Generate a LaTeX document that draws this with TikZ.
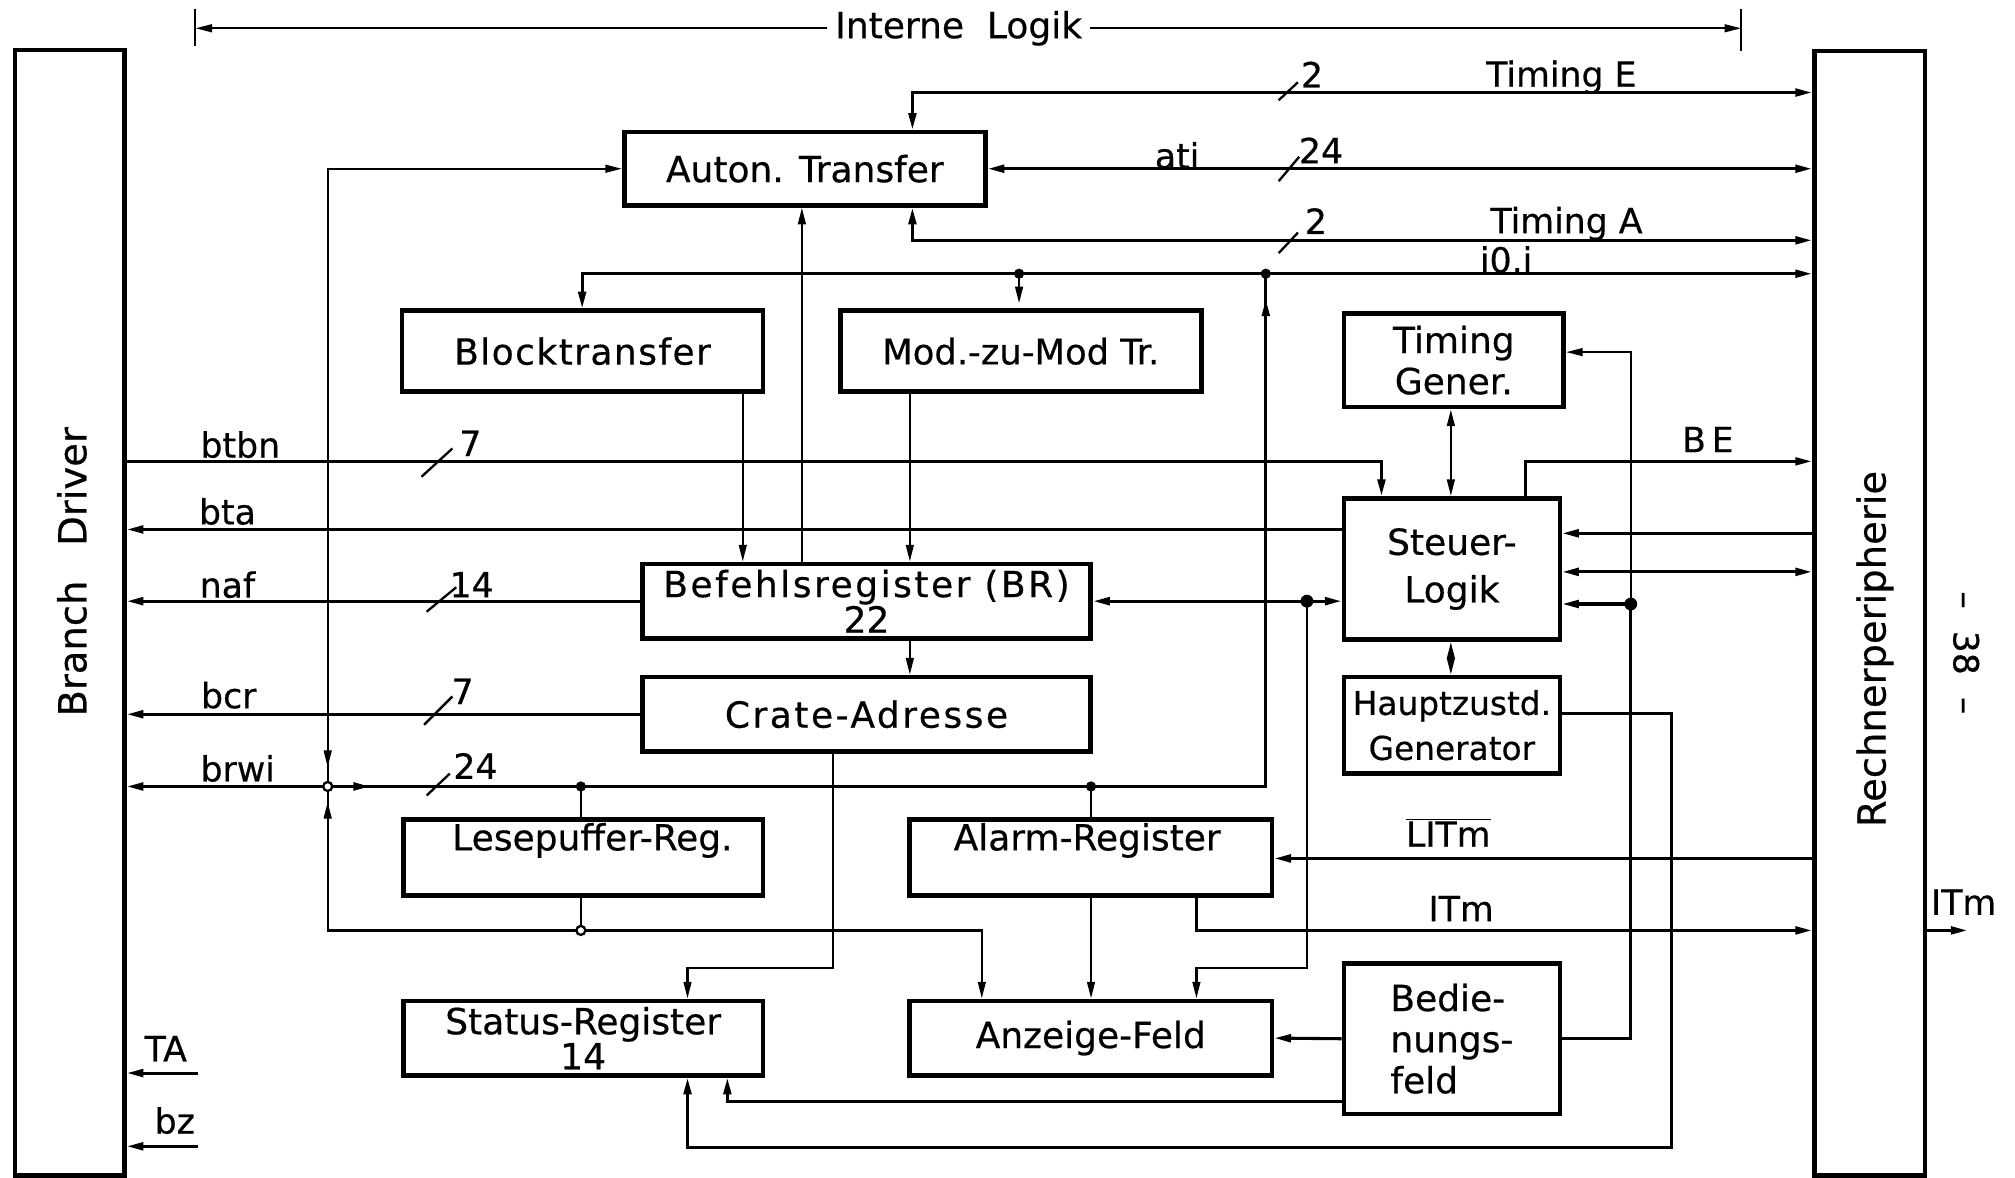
\documentclass[tikz,border=0pt]{standalone}
\usepackage{fontspec}
\setmainfont{DejaVu Sans}[FakeBold=0.5]
\usetikzlibrary{arrows.meta,decorations.markings}

\newcommand\boxfont{\fontsize{28}{32}\selectfont}
\newcommand\lblfont{\fontsize{27}{30}\selectfont}
\newcommand\sidefont{\fontsize{30}{32}\selectfont}

\tikzset{
  >={Triangle[length=13pt,width=6pt]},
  blk/.style={draw, line width=3.6pt, inner sep=0pt, font=\boxfont, align=center, anchor=north west},
  wire/.style={line width=1.7pt},
  bus/.style={line width=2.4pt},
  lbl/.style={font=\lblfont, inner sep=0pt},
  jdot/.style={circle, fill, inner sep=0pt, minimum size=8pt},
  odot/.style={circle, draw, fill=white, line width=1.8pt, inner sep=0pt, minimum size=7pt},
  bitmark/.style={line width=1.8pt},
  midtip/.style={postaction={decorate, decoration={markings, mark=at position #1 with {\arrow{>}}}}},
}

\begin{document}
\begin{tikzpicture}[x=1pt,y=-1pt]
\useasboundingbox (0,0) rectangle (1568,916);

% ---- outer units
\node[blk, minimum width=85pt, minimum height=876pt] (bd) at (10,37) {};
\node[rotate=90, font=\sidefont, inner sep=0pt] (bdt) at (56,445) {Branch\hspace{0.9em}Driver};
\node[blk, minimum width=86pt, minimum height=875pt] (rp) at (1410,38) {};
\node[rotate=90, font=\sidefont, inner sep=0pt] (rpt) at (1459,505) {Rechnerperipherie};
\node[rotate=-90, font=\lblfont, inner sep=0pt] (pg) at (1530,508) {–\ \ 38\ \ –};

% ---- bracket "Interne Logik"
\node[font=\boxfont, inner sep=6pt] (il) at (746,22) {Interne\ \ Logik};
\coordinate (brL) at (152,22);
\coordinate (brR) at (1355,22);
\draw[wire,->] (il.west) -- (brL);
\draw[wire,->] (il.east) -- (brR);
\draw[wire] (152,7) -- (152,36);
\draw[wire] (1355,7) -- (1355,40);

% ---- function blocks
\node[blk, minimum width=281pt, minimum height=57pt] (auton) at (484,101) {Auton. Transfer};
\node[blk, minimum width=281pt, minimum height=63pt] (block) at (311,240) {\addfontfeature{LetterSpace=4}Blocktransfer};
\node[blk, minimum width=281pt, minimum height=63pt, font=\fontsize{27.5}{30}\selectfont] (mod) at (652,240) {Mod.-zu-Mod Tr.};
\node[blk, minimum width=171pt, minimum height=73pt] (timg) at (1044,242) {Timing\\Gener.};
\node[blk, minimum width=168pt, minimum height=110pt, font=\fontsize{28}{37}\selectfont] (steuer) at (1044,386) {Steuer-\\Logik};
\node[blk, minimum width=349pt, minimum height=58pt, font=\fontsize{28}{26}\selectfont] (br) at (498,437) {\addfontfeature{LetterSpace=7}Befehlsregister (BR)\\22};
\node[blk, minimum width=349pt, minimum height=58pt] (crate) at (498,525) {\addfontfeature{LetterSpace=7}Crate-Adresse};
\node[blk, minimum width=168pt, minimum height=75pt, font=\fontsize{25.5}{35}\selectfont] (haupt) at (1044,525) {Hauptzustd.\\Generator};
\node[blk, minimum width=280pt, minimum height=59pt] (lese) at (312,636) {};
\node[font=\boxfont, inner sep=0pt] (leset) at (461,654) {Lesepuffer-Reg.};
\node[blk, minimum width=282pt, minimum height=59pt] (alarm) at (706,636) {};
\node[font=\boxfont, inner sep=0pt] (alarmt) at (846,654) {Alarm-Register};
\node[blk, minimum width=280pt, minimum height=58pt, font=\fontsize{28}{25}\selectfont] (status) at (312,777) {Status-Register\\14};
\node[blk, minimum width=282pt, minimum height=58pt] (anz) at (706,777) {Anzeige-Feld};
\node[blk, minimum width=168pt, minimum height=117pt, align=left] (bed) at (1044,748) {Bedie-\\nungs-\\feld};

% ---- guide coordinates
\coordinate (x255) at (255,0);
\coordinate (x452) at (452,0);
\coordinate (x453) at (453,0);
\coordinate (x535) at (535,0);
\coordinate (x566) at (566,0);
\coordinate (x578) at (578,0);
\coordinate (x624) at (624,0);
\coordinate (x648) at (648,0);
\coordinate (x708) at (708,0);
\coordinate (x710) at (710,0);
\coordinate (x764) at (764,0);
\coordinate (x793) at (793,0);
\coordinate (x849) at (849,0);
\coordinate (x931) at (931,0);
\coordinate (x985) at (985,0);
\coordinate (x1017) at (1017,0);
\coordinate (x1075) at (1075,0);
\coordinate (x1129) at (1129,0);
\coordinate (x1187) at (1187,0);
\coordinate (x1269) at (1269,0);
\coordinate (x1301) at (1301,0);
\coordinate (yTE) at (0,72);
\coordinate (yTA) at (0,187);
\coordinate (yIO) at (0,213);
\coordinate (yTG) at (0,274);
\coordinate (yBT) at (0,359);
\coordinate (yBTA) at (0,412);
\coordinate (y415) at (0,415);
\coordinate (y445) at (0,445);
\coordinate (y470) at (0,470);
\coordinate (yHZ) at (0,555);
\coordinate (yBW) at (0,612);
\coordinate (yLIT) at (0,668);
\coordinate (yLoop) at (0,724);
\coordinate (yAZ) at (0,753);
\coordinate (yBS) at (0,857);
\coordinate (yBot) at (0,893);

% ---- junctions
\coordinate (jMod) at (x793 |- yIO);
\coordinate (jUp) at (x985 |- yIO);
\coordinate (jBW) at (x255 |- yBW);
\coordinate (jLese) at (x452 |- yBW);
\coordinate (jAlarm) at (x849 |- yBW);
\coordinate (jLoop) at (x452 |- yLoop);
\coordinate (jBS) at (x1017 |- br.east);
\coordinate (jBed) at (x1269 |- y470);

% ---- lines to the Rechnerperipherie (top)
\draw[bus,<->] (auton.north -| x710) -- (x710 |- yTE) -- (rp.west |- yTE);
\draw[bus,<->] (auton.east) -- (rp.west |- auton.east);
\draw[bus,<->] (auton.south -| x710) -- (x710 |- yTA) -- (rp.west |- yTA);
\draw[bus,<->] (block.north -| x453) -- (x453 |- yIO) -- (rp.west |- yIO);
\draw[wire,->, shorten >=4pt] (jMod) -- (mod.north -| jMod);

% ---- Auton. Transfer feed from the brwi bus
\draw[wire,<-, midtip=-15pt] (auton.west) -- (auton.west -| x255) -- (jBW);
\draw[wire,<-, midtip=-12pt] (anz.north -| x764) -- (x764 |- yLoop) -- (x255 |- yLoop) -- (jBW);
\draw[wire] (lese.south -| x452) -- (jLoop);

% ---- brwi bus
\draw[bus,<-] (bd.east |- yBW) -- (jBW);
\draw[bus, midtip=33pt, midtip=-20pt] (jBW) -- (x985 |- yBW) -- (jUp);
\draw[wire] (jLese) -- (lese.north -| jLese);
\draw[wire] (jAlarm) -- (alarm.north -| jAlarm);

% ---- vertical paths between blocks
\draw[wire,->] (br.north -| x624) -- (auton.south -| x624);
\draw[wire,->] (block.south -| x578) -- (br.north -| x578);
\draw[wire,->] (mod.south -| x708) -- (br.north -| x708);
\draw[wire,->] (br.south -| x708) -- (crate.north -| x708);

% ---- lines to the Branch Driver
\draw[bus,->] (bd.east |- yBT) -- (x1075 |- yBT) -- (steuer.north -| x1075);
\draw[bus,->] (steuer.west |- yBTA) -- (bd.east |- yBTA);
\draw[bus,->] (br.west) -- (bd.east |- br.west);
\draw[bus,->] (crate.west) -- (bd.east |- crate.west);
\coordinate (taEnd) at (154,835);
\coordinate (bzEnd) at (154,892);
\draw[bus,->] (taEnd) -- (bd.east |- taEnd);
\draw[bus,->] (bzEnd) -- (bd.east |- bzEnd);

% ---- Steuer-Logik links
\draw[bus,->] (jBS) -- (br.east);
\draw[bus,->] (jBS) -- (steuer.west |- jBS);
\draw[wire,->] (jBS) -- (x1017 |- yAZ) -- (x931 |- yAZ) -- (anz.north -| x931);
\draw[wire,<->] (timg.south -| x1129) -- (steuer.north -| x1129);
\draw[wire,<->] (steuer.south -| x1129) -- (haupt.north -| x1129);
\draw[bus,->] (steuer.north -| x1187) -- (x1187 |- yBT) -- (rp.west |- yBT);
\draw[bus,->] (rp.west |- y415) -- (steuer.east |- y415);
\draw[bus,<->] (steuer.east |- y445) -- (rp.west |- y445);

% ---- Crate-Adresse to Status-Register
\draw[wire,->] (crate.south -| x648) -- (x648 |- yAZ) -- (x535 |- yAZ) -- (status.north -| x535);

% ---- Alarm-Register
\draw[wire,->] (alarm.south -| x849) -- (anz.north -| x849);
\draw[bus,->] (alarm.south -| x931) -- (x931 |- yLoop) -- (rp.west |- yLoop);
\draw[bus,->] (rp.west |- yLIT) -- (alarm.east |- yLIT);
\coordinate (itmEnd) at (1531,724);
\draw[bus,->] (rp.east |- yLoop) -- (itmEnd);

% ---- Bedienungsfeld and Hauptzustand
\draw[bus,->] (bed.west) -- (anz.east);
\draw[bus,->] (bed.west |- yBS) -- (x566 |- yBS) -- (status.south -| x566);
\draw[bus] (bed.east) -- (x1269 |- bed.east) -- (jBed);
\draw[bus,->] (jBed) -- (steuer.east |- jBed);
\draw[wire,->] (jBed) -- (x1269 |- yTG) -- (timg.east |- yTG);
\draw[bus,->] (haupt.east |- yHZ) -- (x1301 |- yHZ) -- (x1301 |- yBot) -- (x535 |- yBot) -- (status.south -| x535);

% ---- junction dots
\node[jdot] (dMod) at (jMod) {};
\node[jdot] (dUp) at (jUp) {};
\node[odot] (dBW) at (jBW) {};
\node[jdot] (dLese) at (jLese) {};
\node[jdot] (dAlarm) at (jAlarm) {};
\node[odot] (dLoop) at (jLoop) {};
\node[jdot, minimum size=10pt] (dBS) at (jBS) {};
\node[jdot, minimum size=10pt] (dBed) at (jBed) {};

% ---- bus width marks
\draw[bitmark] (995,78) -- (1010,64);
\draw[bitmark] (995,141) -- (1011,122);
\draw[bitmark] (995,197) -- (1010,181);
\draw[bitmark] (328,371) -- (352,349);
\draw[bitmark] (332,476) -- (355,457);
\draw[bitmark] (330,564) -- (352,542);
\draw[bitmark] (332,619) -- (350,602);

% ---- signal labels
\node[lbl] (te2) at (1021,58) {2};
\node[lbl] (teL) at (1215,60) {Timing E};
\node[lbl] (atiL) at (916,121) {ati};
\node[lbl] (ati24) at (1028,117) {24};
\node[lbl] (ta2) at (1024,172) {2};
\node[lbl] (taL) at (1219,174) {Timing A};
\node[lbl] (ioL) at (1172,202) {i0.i};
\node[lbl] (btbnL) at (187,346) {btbn};
\node[lbl] (btbn7) at (366,345) {7};
\node[lbl] (btaL) at (177,398) {bta};
\node[lbl] (nafL) at (177,455) {naf};
\node[lbl] (naf14) at (367,455) {14};
\node[lbl] (bcrL) at (178,541) {bcr};
\node[lbl] (bcr7) at (360,538) {7};
\node[lbl] (brwiL) at (185,598) {brwi};
\node[lbl] (brwi24) at (370,596) {24};
\node[lbl] (beL) at (1329,342) {B\,E};
\node[lbl] (litmL) at (1127,648) {$\overline{\mbox{LITm}}$};
\node[lbl] (itmL) at (1137,707) {ITm};
\node[lbl] (itmO) at (1528,702) {ITm};
\node[lbl] (taTA) at (129,816) {TA};
\node[lbl] (bzL) at (136,872) {bz};
\end{tikzpicture}
\end{document}
